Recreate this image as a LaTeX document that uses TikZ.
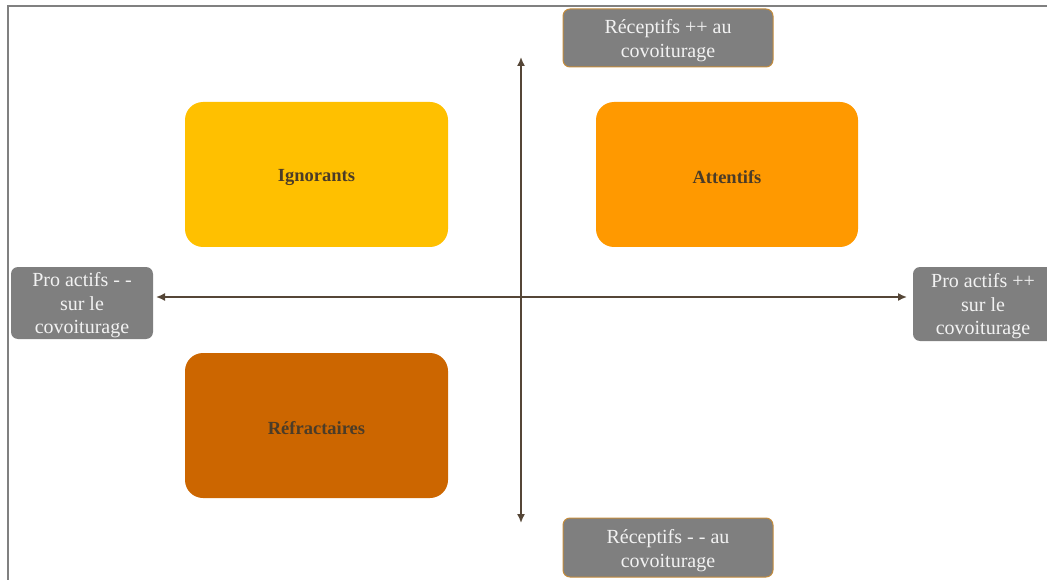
\documentclass[tikz,border=0pt]{standalone}
\usepackage{fontspec}
\setmainfont{Liberation Serif}
\usetikzlibrary{arrows.meta}
\definecolor{frameg}{RGB}{128,128,128}
\definecolor{axisc}{RGB}{85,70,55}
\definecolor{labfill}{RGB}{127,127,127}
\definecolor{labedge}{RGB}{196,140,60}
\definecolor{labtext}{RGB}{242,242,242}
\definecolor{cIgn}{RGB}{255,192,0}
\definecolor{cAtt}{RGB}{255,153,0}
\definecolor{cRef}{RGB}{204,102,0}
\definecolor{qtext}{RGB}{75,60,40}
\begin{document}
\begin{tikzpicture}[x=1pt,y=-1pt,
  quad/.style={inner sep=0pt,text=qtext,font=\fontsize{18.5}{22}\selectfont\bfseries},
  qbox/.style={rounded corners=18pt},
  labbox/.style={rounded corners=7pt,fill=labfill,draw=labedge,line width=1pt},
  labtxt/.style={text=labtext,align=center,font=\fontsize{20}{23.5}\selectfont},
  axis/.style={draw=axisc,line width=1.6pt,{Latex[length=9pt,width=8pt]}-{Latex[length=9pt,width=8pt]}}]
\useasboundingbox (0,0) rectangle (1047,580);
\draw[frameg,line width=2pt] (8,580) -- (8,6) -- (1047,6);
% quadrant boxes
\fill[cIgn,qbox] (185,102) rectangle (448,247);
\node[quad] (ign) at (316.5,177) {Ignorants};
\fill[cAtt,qbox] (596,102) rectangle (858,247);
\node[quad] (att) at (727,177) {Attentifs};
\fill[cRef,qbox] (185,353) rectangle (448,498);
\node[quad] (ref) at (316.5,428) {Réfractaires};
% axis end coordinates
\coordinate (vt) at (521,57);
\coordinate (vb) at (521,523);
\coordinate (hl) at (156,297);
\coordinate (hr) at (907,297);
\draw[axis] (vb) -- (vt);
\draw[axis] (hl) -- (hr);
% labels
\draw[labbox] (563,9) rectangle (773,67);
\node[labtxt] (top) at (668,40.5) {Réceptifs ++ au\\covoiturage};
\draw[labbox] (563,518) rectangle (773,577);
\node[labtxt] (bot) at (668,550.5) {Réceptifs - - au\\covoiturage};
\fill[labfill,rounded corners=7pt] (11,267) rectangle (153,339);
\node[labtxt] (left) at (82,305.5) {Pro actifs - -\\sur le\\covoiturage};
\fill[labfill,rounded corners=7pt] (913,267) rectangle (1060,341);
\node[labtxt] (right) at (983,306.5) {Pro actifs ++\\sur le\\covoiturage};
\end{tikzpicture}
\end{document}
